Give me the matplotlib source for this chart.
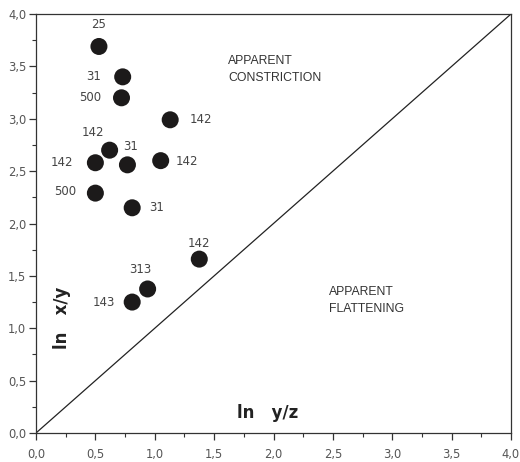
import numpy as np
import matplotlib
matplotlib.use('Agg')
import matplotlib.pyplot as plt
from matplotlib.ticker import MultipleLocator, FuncFormatter

# ---------------- data ----------------
ln_yz = [0.53, 0.73, 0.72, 1.13, 0.62, 0.50, 0.77, 1.05, 0.50, 0.81, 1.375, 0.94, 0.81]
ln_xy = [3.69, 3.40, 3.20, 2.99, 2.70, 2.58, 2.56, 2.60, 2.29, 2.15, 1.66, 1.375, 1.25]
labels = ['25', '31', '500', '142', '142', '142', '31', '142', '500', '31', '142', '313', '143']
# label offsets in pixels (dx, dy) from the marker centre
offsets = [(0, 22), (-29, 0), (-31, 0), (31, 0), (-17, 18), (-33, 0), (3, 18),
           (26, -1), (-30, 2), (24, 0), (0, 16), (-7, 19), (-28, 0)]

# ---------------- layout ----------------
fig = plt.figure(figsize=(5.2, 4.62), dpi=100)
ax = fig.add_axes([36 / 520, 29 / 462, 475 / 520, 419 / 462])

ax.set_xlim(0, 4)
ax.set_ylim(0, 4)

# diagonal (ln x/y = ln y/z)
ax.plot([0, 4], [0, 4], color='#222222', lw=0.9)

ax.scatter(ln_yz, ln_xy, s=150, color='#1c1a1a', zorder=3, edgecolors='none')

for xv, yv, lab, off in zip(ln_yz, ln_xy, labels, offsets):
    ax.annotate(lab, (xv, yv), xytext=off, textcoords='offset pixels',
                ha='center', va='center', fontsize=8.5, color='#444444',
                family='DejaVu Sans')

# region text
ax.text(1.62, 3.61, 'APPARENT\nCONSTRICTION', fontsize=8.8, color='#333333',
        family='Liberation Sans', ha='left', va='top', linespacing=1.55)
ax.text(2.47, 1.40, 'APPARENT\nFLATTENING', fontsize=8.8, color='#333333',
        family='Liberation Sans', ha='left', va='top', linespacing=1.55)

# axis titles drawn inside the frame
ax.text(1.95, 0.19, 'ln   y/z', fontsize=12, fontweight='bold', color='#222222',
        ha='center', va='center', family='DejaVu Sans')
ax.text(0.22, 1.10, 'ln   x/y', fontsize=12, fontweight='bold', color='#222222',
        ha='center', va='center', rotation=90, family='DejaVu Sans')

# ---------------- ticks ----------------
ax.xaxis.set_major_locator(MultipleLocator(0.5))
ax.xaxis.set_minor_locator(MultipleLocator(0.25))
ax.yaxis.set_major_locator(MultipleLocator(0.5))
ax.yaxis.set_minor_locator(MultipleLocator(0.25))
fmt = FuncFormatter(lambda v, p: f'{v:.1f}'.replace('.', ','))
ax.xaxis.set_major_formatter(fmt)
ax.yaxis.set_major_formatter(fmt)

ax.tick_params(which='major', direction='out', length=5, width=0.9, labelsize=8.3,
               labelcolor='#555555', color='#333333')
ax.tick_params(which='minor', direction='out', length=3, width=0.8, color='#333333')
ax.tick_params(axis='x', pad=6)
ax.tick_params(axis='y', pad=2)

for sp in ax.spines.values():
    sp.set_linewidth(0.9)
    sp.set_color('#333333')

fig.savefig('out.png', dpi=100)
